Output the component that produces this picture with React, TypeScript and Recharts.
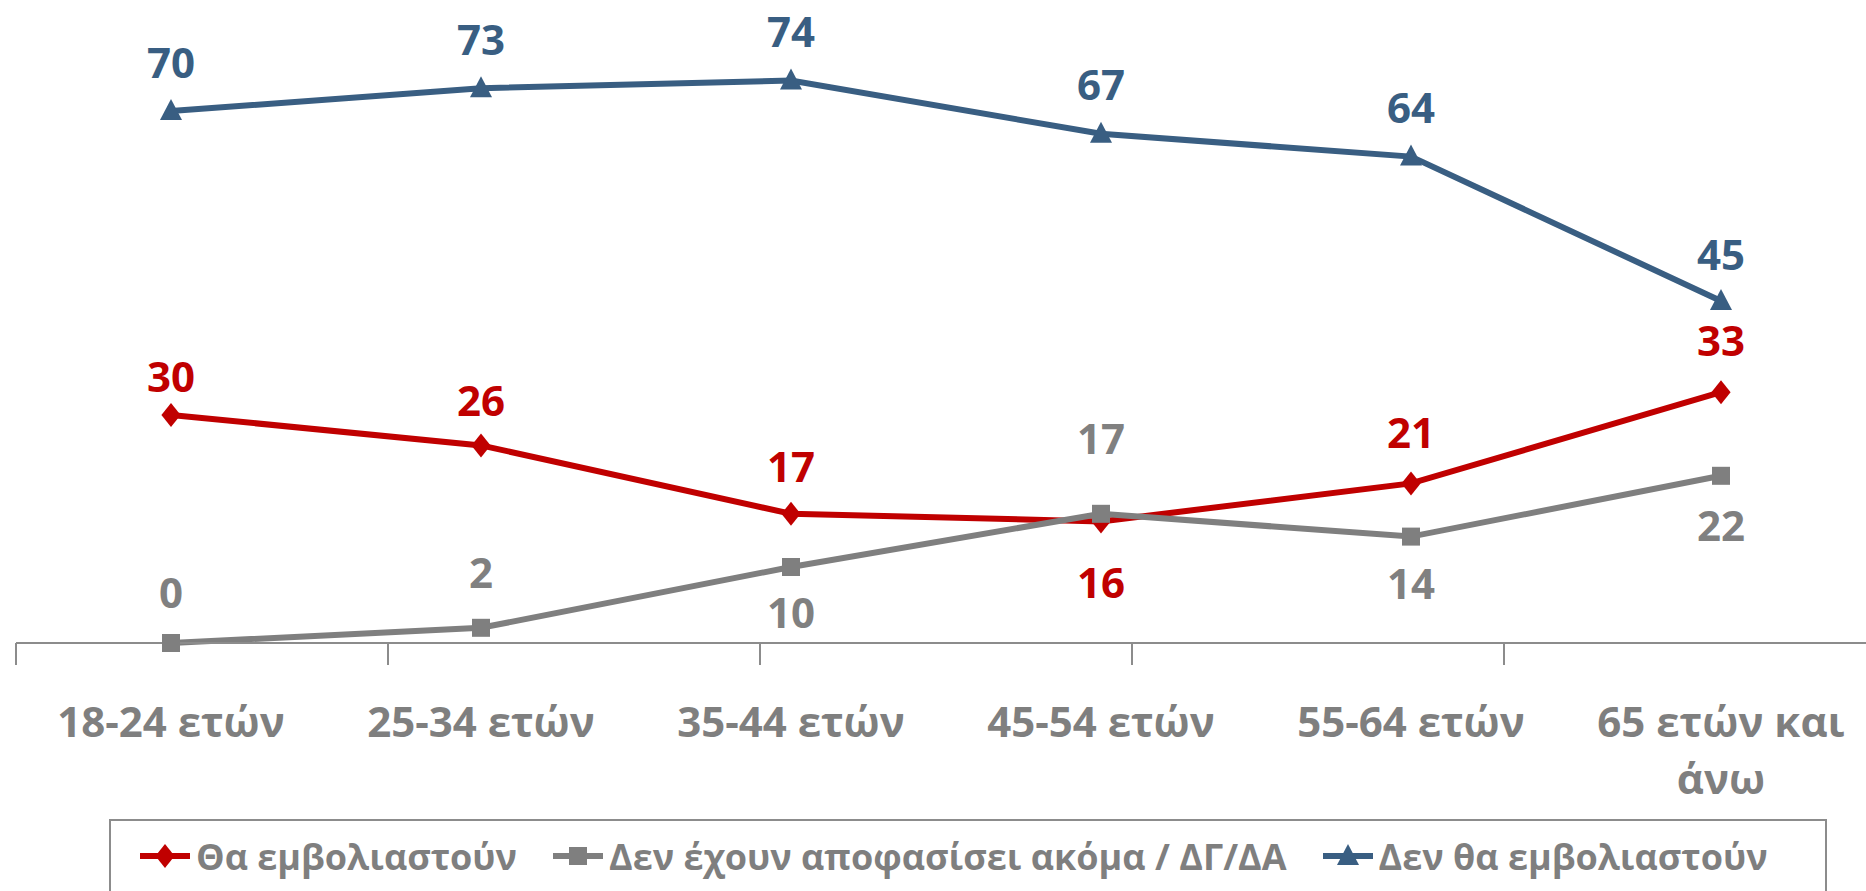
import React from 'react';
import { LineChart, Line, XAxis, YAxis, LabelList } from 'recharts';

const ageGroups = ['18-24 ετών', '25-34 ετών', '35-44 ετών', '45-54 ετών', '55-64 ετών', '65 ετών και άνω'];
const willVaccinate = [30, 26, 17, 16, 21, 33];
const undecided = [0, 2, 10, 17, 14, 22];
const wontVaccinate = [70, 73, 74, 67, 64, 45];
const seriesNames = ['Θα εμβολιαστούν', 'Δεν έχουν αποφασίσει ακόμα / ΔΓ/ΔΑ', 'Δεν θα εμβολιαστούν'];

// label offsets from the point, px (negative = above)
const redLabelDy = [-40, -46, -48, 60, -52, -53];
const grayLabelDy = [-52, -56, 44, -76, 46, 49];
const blueLabelDy = [-50, -50, -50, -50, -50, -48];

const RED = '#C00000';
const GRAY = '#7F7F7F';
const BLUE = '#395E82';
const AXIS = '#8C8C8C';
const FONT = '"Open Sans", sans-serif';

const W = 1880;
const H = 891;

const data = ageGroups.map((g, i) => ({
  group: g,
  will: willVaccinate[i],
  undecided: undecided[i],
  wont: wontVaccinate[i],
}));

// category borders for the tick marks (0..n)
const borderTicks = [...ageGroups.map((_, i) => i), ageGroups.length];

function diamond(cx: number, cy: number, color: string, key?: string) {
  const r = 12;
  return <path key={key} d={`M${cx},${cy - r}L${cx + r * 0.8},${cy}L${cx},${cy + r}L${cx - r * 0.8},${cy}Z`} fill={color} />;
}
function square(cx: number, cy: number, color: string, key?: string) {
  const s = 9;
  return <rect key={key} x={cx - s} y={cy - s} width={s * 2} height={s * 2} fill={color} />;
}
function triangle(cx: number, cy: number, color: string, key?: string) {
  const w = 11, h = 12;
  return <path key={key} d={`M${cx},${cy - h}L${cx + w},${cy + 9}L${cx - w},${cy + 9}Z`} fill={color} />;
}

const makeDot = (shape: typeof diamond, color: string) => (p: any) => {
  if (p.cx == null || p.cy == null) return <g key={`e-${p.index}`} />;
  return shape(p.cx, p.cy, color, `m-${p.index}`);
};

const makeLabel = (color: string, dys: number[]) => (p: any) => {
  const x = p.x ?? p.viewBox?.x;
  const y = p.y ?? p.viewBox?.y;
  if (x == null || y == null) return null;
  return (
    <text
      key={`l-${p.index}`}
      x={x}
      y={y + dys[p.index]}
      textAnchor="middle"
      dominantBaseline="central"
      fill={color}
      fontSize={42}
      fontWeight={700}
      fontFamily={FONT}
    >
      {p.value}
    </text>
  );
};

// greedy word wrap, measured with a canvas
let ctx: CanvasRenderingContext2D | null = null;
function wrap(label: string, maxW: number) {
  if (!ctx) ctx = document.createElement('canvas').getContext('2d');
  if (!ctx) return [label];
  ctx.font = `700 42px ${FONT}`;
  const lines: string[] = [];
  let cur = '';
  for (const w of label.split(' ')) {
    const t = cur ? `${cur} ${w}` : w;
    if (cur && ctx.measureText(t).width > maxW) {
      lines.push(cur);
      cur = w;
    } else cur = t;
  }
  if (cur) lines.push(cur);
  return lines;
}

const AgeTick = (props: any) => {
  const { x, y, payload } = props;
  const lines = wrap(String(payload.value), 260);
  return (
    <text x={x} y={y + 70} textAnchor="middle" fill={GRAY} fontSize={42} fontWeight={700} fontFamily={FONT}>
      {lines.map((l, i) => (
        <tspan key={i} x={x} dy={i === 0 ? 0 : 57}>
          {l}
        </tspan>
      ))}
    </text>
  );
};

const legendItems = [
  { name: seriesNames[0], color: RED, shape: diamond },
  { name: seriesNames[1], color: GRAY, shape: square },
  { name: seriesNames[2], color: BLUE, shape: triangle },
];

function ChartLegend() {
  return (
    <div
      style={{
        position: 'absolute',
        left: 109,
        top: 819,
        width: 1718,
        height: 110,
        boxSizing: 'border-box',
        border: `2px solid ${AXIS}`,
        background: '#fff',
      }}
    >
      <div style={{ display: 'flex', alignItems: 'center', height: 70, paddingLeft: 29, gap: 36 }}>
        {legendItems.map((it) => (
          <div key={it.name} style={{ display: 'flex', alignItems: 'center', gap: 6 }}>
            <svg width={50} height={30}>
              <line x1={0} y1={15} x2={50} y2={15} stroke={it.color} strokeWidth={6} />
              {it.shape(25, 15, it.color)}
            </svg>
            <span style={{ fontFamily: FONT, fontWeight: 700, fontSize: 36, color: GRAY, whiteSpace: 'nowrap' }}>
              {it.name}
            </span>
          </div>
        ))}
      </div>
    </div>
  );
}

export default function App() {
  return (
    <div style={{ position: 'relative', width: W, height: H, background: '#fff' }}>
      <style>{'body{margin:0;overflow:hidden;}'}</style>
      <LineChart width={W} height={H} data={data} margin={{ top: 35, right: 4, left: 16, bottom: 106 }}>
        <XAxis
          xAxisId="a-frame"
          type="number"
          domain={[0, ageGroups.length]}
          ticks={borderTicks}
          tickFormatter={() => ''}
          tickSize={22}
          tickLine={{ stroke: AXIS, strokeWidth: 2 }}
          axisLine={{ stroke: AXIS, strokeWidth: 2 }}
          height={22}
          allowDataOverflow
        />
        <XAxis
          xAxisId="b-cat"
          dataKey="group"
          padding={{ left: 155, right: 155 }}
          axisLine={false}
          tickLine={false}
          tick={<AgeTick />}
          tickSize={0}
          height={120}
          interval={0}
        />
        <YAxis hide domain={[0, 80]} />
        <Line
          xAxisId="b-cat"
          dataKey="will"
          name={seriesNames[0]}
          stroke={RED}
          strokeWidth={6}
          dot={makeDot(diamond, RED)}
          isAnimationActive={false}
        >
          <LabelList dataKey="will" content={makeLabel(RED, redLabelDy)} />
        </Line>
        <Line
          xAxisId="b-cat"
          dataKey="undecided"
          name={seriesNames[1]}
          stroke={GRAY}
          strokeWidth={6}
          dot={makeDot(square, GRAY)}
          isAnimationActive={false}
        >
          <LabelList dataKey="undecided" content={makeLabel('#808080', grayLabelDy)} />
        </Line>
        <Line
          xAxisId="b-cat"
          dataKey="wont"
          name={seriesNames[2]}
          stroke={BLUE}
          strokeWidth={6}
          dot={makeDot(triangle, BLUE)}
          isAnimationActive={false}
        >
          <LabelList dataKey="wont" content={makeLabel(BLUE, blueLabelDy)} />
        </Line>
      </LineChart>
      <ChartLegend />
    </div>
  );
}
